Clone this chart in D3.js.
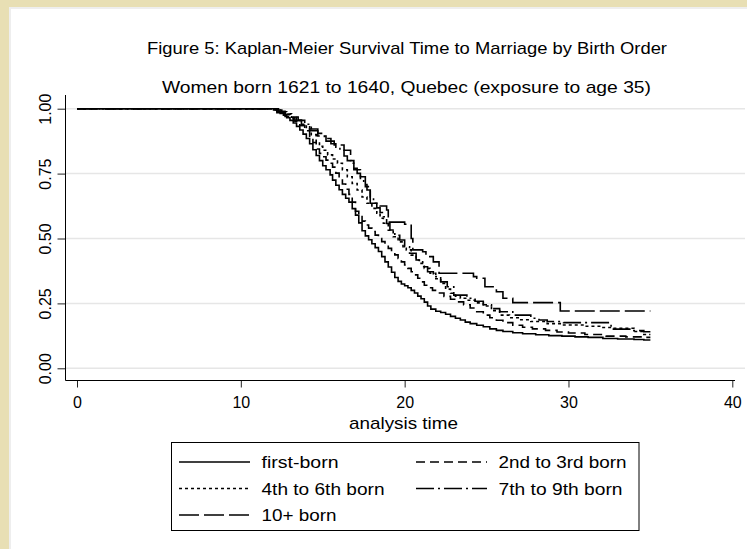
<!DOCTYPE html>
<html>
<head>
<meta charset="utf-8">
<script src="https://cdn.jsdelivr.net/npm/d3@7"></script>
<style>
    body { margin: 0; background: #fff; }
    svg { display: block; font-family: "Liberation Sans", Arial, sans-serif; }
</style>
</head>
<body>
<div id="app"></div>
<script>
// series labels, in legend order
const seriesNames = ["first-born", "2nd to 3rd born", "4th to 6th born", "7th to 9th born", "10+ born"]

// [analysis time, survival] steps
const firstBorn = [
    [0, 1], [12.0, 0.995], [12.2, 0.99], [12.4, 0.982], [12.6, 0.975], [12.8, 0.965], [13.0, 0.955],
    [13.2, 0.945], [13.4, 0.932], [13.6, 0.918], [13.8, 0.902], [14.0, 0.885], [14.2, 0.865], [14.4, 0.842],
    [14.6, 0.82], [14.8, 0.80], [15.0, 0.78], [15.2, 0.765], [15.45, 0.745], [15.6, 0.725], [15.8, 0.705],
    [16.0, 0.688], [16.2, 0.67], [16.4, 0.655], [16.6, 0.64], [16.8, 0.615], [17.0, 0.59], [17.2, 0.56],
    [17.4, 0.53], [17.6, 0.51], [17.8, 0.495], [18.0, 0.48], [18.2, 0.465], [18.4, 0.45], [18.6, 0.43],
    [18.8, 0.41], [19.0, 0.39], [19.2, 0.37], [19.4, 0.35], [19.6, 0.335], [19.8, 0.325], [20.0, 0.318],
    [20.2, 0.31], [20.4, 0.30], [20.6, 0.29], [20.8, 0.278], [21.0, 0.268], [21.2, 0.255], [21.4, 0.24],
    [21.6, 0.228], [21.9, 0.22], [22.2, 0.215], [22.5, 0.208], [22.8, 0.20], [23.1, 0.193], [23.4, 0.186],
    [23.7, 0.178], [24.0, 0.172], [24.4, 0.166], [24.8, 0.16], [25.2, 0.152], [25.6, 0.146], [26.0, 0.142],
    [26.6, 0.137], [27.2, 0.133], [28.0, 0.129], [28.8, 0.126], [29.6, 0.124], [30.4, 0.121], [31.2, 0.119],
    [32.1, 0.115], [33.0, 0.113], [34.0, 0.111], [34.6, 0.109], [35, 0.109]
]
const secondThird = [
    [0, 1], [12.1, 0.995], [12.4, 0.988], [12.7, 0.978], [13.0, 0.965], [13.3, 0.952], [13.6, 0.935],
    [13.9, 0.915], [14.2, 0.89], [14.4, 0.87], [14.6, 0.845], [14.8, 0.828], [15.0, 0.815], [15.2, 0.802],
    [15.4, 0.79], [15.6, 0.775], [15.8, 0.752], [16.0, 0.73], [16.2, 0.71], [16.4, 0.69], [16.6, 0.67],
    [16.8, 0.64], [17.0, 0.605], [17.2, 0.585], [17.4, 0.567], [17.6, 0.552], [17.8, 0.54], [18.0, 0.527],
    [18.2, 0.513], [18.4, 0.50], [18.6, 0.488], [18.8, 0.475], [19.0, 0.462], [19.2, 0.45], [19.4, 0.437],
    [19.6, 0.423], [19.8, 0.41], [20.0, 0.398], [20.2, 0.385], [20.4, 0.372], [20.6, 0.36], [20.8, 0.347],
    [21.0, 0.333], [21.2, 0.32], [21.4, 0.31], [21.7, 0.30], [22.0, 0.29], [22.4, 0.277], [22.8, 0.266],
    [23.2, 0.256], [23.6, 0.245], [24.0, 0.232], [24.4, 0.218], [24.8, 0.205], [25.2, 0.195], [25.6, 0.185],
    [26.0, 0.176], [26.6, 0.166], [27.2, 0.158], [27.8, 0.152], [28.6, 0.146], [29.3, 0.14], [30.0, 0.136],
    [31.0, 0.13], [32.3, 0.124], [33.5, 0.121], [34.5, 0.119], [35, 0.119]
]
const fourthSixth = [
    [0, 1], [12.2, 0.995], [12.5, 0.988], [12.8, 0.978], [13.1, 0.967], [13.4, 0.955], [13.7, 0.94],
    [14.0, 0.922], [14.3, 0.90], [14.6, 0.872], [14.8, 0.855], [15.0, 0.84], [15.3, 0.822], [15.6, 0.806],
    [15.9, 0.79], [16.2, 0.765], [16.5, 0.738], [16.8, 0.712], [17.1, 0.687], [17.4, 0.66], [17.7, 0.636],
    [18.0, 0.616], [18.3, 0.597], [18.5, 0.578], [18.7, 0.559], [19.0, 0.532], [19.3, 0.507], [19.6, 0.487],
    [19.9, 0.468], [20.1, 0.456], [20.4, 0.436], [20.7, 0.417], [20.9, 0.404], [21.2, 0.385], [21.55, 0.366],
    [21.9, 0.345], [22.2, 0.327], [22.5, 0.305], [22.8, 0.289], [23.1, 0.278], [23.4, 0.27], [23.8, 0.262],
    [24.3, 0.252], [24.8, 0.24], [25.3, 0.222], [25.8, 0.205], [26.4, 0.195], [27.0, 0.187], [27.7, 0.18],
    [28.7, 0.172], [29.7, 0.167], [31.0, 0.162], [32.0, 0.157], [32.7, 0.154], [34.0, 0.142], [34.6, 0.13],
    [35, 0.13]
]
const seventhNinth = [
    [0, 1], [12.3, 0.99], [12.7, 0.98], [13.1, 0.968], [13.5, 0.955], [13.9, 0.94], [14.3, 0.922],
    [14.7, 0.905], [15.1, 0.885], [15.5, 0.865], [15.8, 0.852], [16.05, 0.84], [16.3, 0.818], [16.5, 0.80],
    [16.7, 0.79], [16.9, 0.77], [17.1, 0.751], [17.3, 0.728], [17.5, 0.708], [17.7, 0.687], [17.9, 0.66],
    [18.1, 0.636], [18.3, 0.618], [18.5, 0.60], [18.7, 0.584], [18.9, 0.558], [19.1, 0.533], [19.4, 0.512],
    [19.7, 0.494], [20.0, 0.468], [20.3, 0.443], [20.7, 0.417], [21.1, 0.391], [21.4, 0.372], [21.75, 0.353],
    [22.2, 0.333], [22.6, 0.314], [23.0, 0.282], [23.8, 0.27], [24.3, 0.258], [24.8, 0.245], [25.3, 0.23],
    [25.8, 0.218], [26.6, 0.205], [27.7, 0.193], [28.2, 0.186], [28.7, 0.18], [29.7, 0.176], [32.6, 0.151],
    [33.8, 0.145], [34.6, 0.141], [35, 0.141]
]
const tenPlus = [
    [0, 1], [12.2, 0.985], [12.7, 0.97], [13.2, 0.955], [13.7, 0.935], [14.2, 0.915], [14.7, 0.895],
    [15.2, 0.875], [15.7, 0.86], [16.3, 0.84], [16.7, 0.80], [16.9, 0.765], [17.3, 0.738], [17.6, 0.70],
    [17.9, 0.636], [18.5, 0.625], [18.9, 0.61], [19.0, 0.563], [20.0, 0.555], [20.4, 0.50], [20.5, 0.456],
    [21.1, 0.449], [21.3, 0.43], [21.75, 0.41], [22.1, 0.366], [24.2, 0.353], [24.4, 0.347], [24.9, 0.314],
    [25.4, 0.305], [25.6, 0.295], [26.0, 0.27], [26.6, 0.253], [29.5, 0.221], [35, 0.221]
]

const xTicks = [0, 10, 20, 30, 40]
const yTicks = [0, 0.25, 0.5, 0.75, 1]

const title = "Figure 5: Kaplan-Meier Survival Time to Marriage by Birth Order"
const subtitle = "Women born 1621 to 1640, Quebec (exposure to age 35)"
const xTitle = "analysis time"

const W = 747, H = 549

// line patterns per series (Stata-like)
const dashes = [null, "9,5", "3,3", "18,4,2,4", "20,5"]
// rendered widths of the legend labels
const labelWidths = [77, 128, 123, 124, 75]

const svg = d3.select('#app').append('svg')
    .attr('width', W)
    .attr('height', H)

// frame: beige edge on the left and top
svg.append('rect').attr('width', W).attr('height', H).attr('fill', '#e8dfb4')
svg.append('rect').attr('x', 9).attr('y', 7).attr('width', W).attr('height', H).attr('fill', '#eeeeee')
svg.append('rect').attr('x', 11).attr('y', 9).attr('width', W).attr('height', H).attr('fill', '#ffffff')

const x = d3.scaleLinear().domain([0, 40]).range([77, 732.3])
const y = d3.scaleLinear().domain([0, 1]).range([368.3, 108.7])

const plotLeft = 65.5, plotRight = 745, plotTop = 95, plotBottom = 380.5

// gridlines
svg.append('g')
    .selectAll('line')
    .data(yTicks)
    .join('line')
    .attr('x1', plotLeft)
    .attr('x2', plotRight)
    .attr('y1', d => y(d))
    .attr('y2', d => y(d))
    .attr('stroke', '#e6e6e6')
    .attr('stroke-width', 1.5)

// y axis
const yAxis = svg.append('g')
    .attr('transform', `translate(${plotLeft},0)`)
    .call(d3.axisLeft(y).tickValues(yTicks).tickFormat(d3.format('.2f')).tickSize(8))
yAxis.select('.domain').remove()
yAxis.selectAll('.tick line').attr('stroke', '#222')
yAxis.selectAll('.tick text')
    .attr('x', null)
    .attr('dy', null)
    .attr('transform', 'translate(-15,0) rotate(-90)')
    .attr('text-anchor', 'middle')
    .attr('font-size', 16)
    .attr('font-family', null)
    .attr('fill', '#000')

// x axis
const xAxis = svg.append('g')
    .attr('transform', `translate(0,${plotBottom})`)
    .call(d3.axisBottom(x).tickValues(xTicks).tickFormat(d3.format('d')).tickSize(7))
xAxis.select('.domain').remove()
xAxis.selectAll('.tick line').attr('stroke', '#222')
xAxis.selectAll('.tick text')
    .attr('y', 27)
    .attr('dy', null)
    .attr('font-size', 16)
    .attr('font-family', null)
    .attr('fill', '#000')

// axis lines
svg.append('line')
    .attr('x1', plotLeft).attr('x2', plotLeft)
    .attr('y1', plotTop).attr('y2', plotBottom)
    .attr('stroke', '#000')
svg.append('line')
    .attr('x1', plotLeft).attr('x2', 735)
    .attr('y1', plotBottom).attr('y2', plotBottom)
    .attr('stroke', '#000')

// survival curves
const allSeries = [firstBorn, secondThird, fourthSixth, seventhNinth, tenPlus]
const line = d3.line()
    .x(d => x(d[0]))
    .y(d => y(d[1]))
    .curve(d3.curveStepAfter)

svg.append('g')
    .selectAll('path')
    .data(allSeries)
    .join('path')
    .attr('d', line)
    .attr('fill', 'none')
    .attr('stroke', '#000')
    .attr('stroke-width', 1.6)
    .attr('stroke-dasharray', (d, i) => dashes[i])

// titles
const addText = (tx, ty, str, len) => svg.append('text')
    .attr('x', tx).attr('y', ty)
    .attr('text-anchor', 'middle')
    .attr('font-size', 17)
    .attr('textLength', len)
    .attr('lengthAdjust', 'spacingAndGlyphs')
    .text(str)
addText(407, 54, title, 520)
addText(406.5, 93, subtitle, 489)
addText(403.5, 429, xTitle, 109)

// legend
const legend = svg.append('g')
legend.append('rect')
    .attr('x', 171.5).attr('y', 442.5)
    .attr('width', 467.5).attr('height', 88)
    .attr('fill', '#fff')
    .attr('stroke', '#000')

const colX = [179, 416]
const rowY = [462, 488.5, 515]
const item = legend.selectAll('g.item')
    .data(seriesNames)
    .join('g')
    .attr('class', 'item')
    .attr('transform', (d, i) => `translate(${colX[i % 2]},${rowY[Math.floor(i / 2)]})`)
item.append('line')
    .attr('x1', 0).attr('x2', 71)
    .attr('stroke', '#000')
    .attr('stroke-width', 1.5)
    .attr('stroke-dasharray', (d, i) => dashes[i])
item.append('text')
    .attr('x', 82.5).attr('y', 6)
    .attr('font-size', 17)
    .attr('textLength', (d, i) => labelWidths[i])
    .attr('lengthAdjust', 'spacingAndGlyphs')
    .text(d => d)
</script>
</body>
</html>
